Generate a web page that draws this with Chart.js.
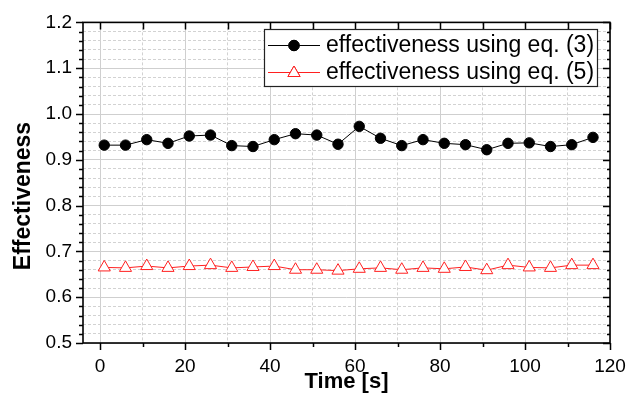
<!DOCTYPE html>
<html>
<head>
<meta charset="utf-8">
<script src="https://cdn.jsdelivr.net/npm/chart.js@4"></script>
<style>
  html, body { margin: 0; padding: 0; background: #fff; }
  #wrap { width: 639px; height: 398px; }
</style>
</head>
<body>
<div id="wrap"><canvas id="c" width="639" height="398"></canvas></div>
<script>
// ---- data ----
const timeS = [1, 6, 11, 16, 21, 26, 31, 36, 41, 46, 51, 56, 61, 66, 71, 76, 81, 86, 91, 96, 101, 106, 111, 116];
const effEq3 = [0.932, 0.932, 0.944, 0.936, 0.952, 0.954, 0.931, 0.929, 0.944, 0.957, 0.954, 0.934,
                0.973, 0.947, 0.931, 0.944, 0.936, 0.933, 0.922, 0.936, 0.937, 0.929, 0.933, 0.949];
const effEq5 = [0.665, 0.664, 0.668, 0.664, 0.668, 0.670, 0.664, 0.666, 0.668, 0.660, 0.660, 0.658,
                0.662, 0.664, 0.660, 0.664, 0.662, 0.666, 0.659, 0.670, 0.665, 0.664, 0.670, 0.670];
const seriesLabels = ['effectiveness using eq. (3)', 'effectiveness using eq. (5)'];
const xTitle = 'Time [s]';
const yTitle = 'Effectiveness';
const xMajorTicks = [0, 20, 40, 60, 80, 100, 120];
const xMinorTicks = [10, 30, 50, 70, 90, 110];
const yMajorTicks = [0.5, 0.6, 0.7, 0.8, 0.9, 1.0, 1.1, 1.2];
const yMinorPerMajor = 4; // minor ticks between majors (0.02 steps)
const xRange = [-4, 120];
const yRange = [0.5, 1.2];

// ---- helpers ----
const xAllTicks = xMajorTicks.concat(xMinorTicks).sort((a, b) => a - b);
const yMinorTicks = [];
for (let i = 0; i < yMajorTicks.length - 1; i++) {
  const a = yMajorTicks[i], b = yMajorTicks[i + 1];
  for (let k = 1; k <= yMinorPerMajor; k++) yMinorTicks.push(+(a + (b - a) * k / (yMinorPerMajor + 1)).toFixed(4));
}
const yAllTicks = yMajorTicks.concat(yMinorTicks).sort((a, b) => a - b);
const isMajorX = v => xMajorTicks.some(t => Math.abs(t - v) < 1e-6);
const isMajorY = v => yMajorTicks.some(t => Math.abs(t - v) < 1e-6);

const FONT = "'Liberation Sans', Arial, Helvetica, sans-serif";
const MAJOR_GRID = '#cfcfcf';
const MINOR_GRID = '#d2d2d2';

const framePlugin = {
  id: 'frame',
  afterDraw(chart) {
    const { ctx, chartArea: a, scales: { x, y } } = chart;
    ctx.save();
    ctx.strokeStyle = '#000';
    ctx.lineWidth = 1.5;
    ctx.beginPath();
    // left / right ticks
    yAllTicks.forEach(v => {
      const py = Math.round(y.getPixelForValue(v)) + 0.5;
      const maj = isMajorY(v);
      const lenOut = maj ? 7 : 4, lenIn = maj ? 7 : 3;
      ctx.moveTo(a.left - lenOut, py); ctx.lineTo(a.left, py);
      ctx.moveTo(a.right, py); ctx.lineTo(a.right - lenIn, py);
    });
    // bottom / top ticks
    xAllTicks.forEach(v => {
      const px = Math.round(x.getPixelForValue(v)) + 0.5;
      const maj = isMajorX(v);
      ctx.moveTo(px, a.bottom); ctx.lineTo(px, a.bottom + (maj ? 7 : 4));
      ctx.moveTo(px, a.top); ctx.lineTo(px, a.top + 7);
    });
    ctx.stroke();
    ctx.lineWidth = 1.6;
    ctx.strokeRect(a.left, a.top, a.right - a.left, a.bottom - a.top);
    ctx.restore();

    // y axis title (sits a little below the plot centre in the reference)
    ctx.save();
    ctx.translate(24, 196);
    ctx.rotate(-Math.PI / 2);
    ctx.fillStyle = '#000';
    ctx.font = 'bold 23px ' + FONT;
    ctx.textAlign = 'center';
    ctx.textBaseline = 'middle';
    ctx.fillText(yTitle, 0, 0);
    ctx.restore();

    // legend box
    const lx = 264, ly = 29, lw = 333, lh = 57;
    ctx.save();
    ctx.fillStyle = '#fff';
    ctx.fillRect(lx, ly, lw, lh);
    ctx.strokeStyle = '#222';
    ctx.lineWidth = 1.2;
    ctx.strokeRect(lx + 0.5, ly + 0.5, lw, lh);
    const rows = [ly + 16, ly + 43];
    chart.data.datasets.forEach((ds, i) => {
      const ry = rows[i];
      ctx.strokeStyle = ds.borderColor;
      ctx.lineWidth = 1;
      ctx.beginPath(); ctx.moveTo(lx + 4, ry + 0.5); ctx.lineTo(lx + 56, ry + 0.5); ctx.stroke();
      Chart.helpers.drawPoint(ctx, {
        pointStyle: ds.pointStyle, radius: ds.pointRadius, borderWidth: ds.pointBorderWidth || 1, rotation: 0
      }, lx + 30, ry + (ds.pointStyle === 'triangle' ? 1 : 0.5));
      ctx.fillStyle = ds.pointBackgroundColor;
      ctx.strokeStyle = ds.pointBorderColor;
      ctx.lineWidth = 1;
      ctx.fill(); ctx.stroke();
      ctx.fillStyle = '#000';
      ctx.font = '23px ' + FONT;
      ctx.textBaseline = 'middle';
      ctx.textAlign = 'left';
      ctx.fillText(ds.label, lx + 62, ry + 1);
    });
    ctx.restore();
  }
};

new Chart(document.getElementById('c'), {
  type: 'line',
  data: {
    datasets: [
      {
        label: seriesLabels[0],
        data: timeS.map((t, i) => ({ x: t, y: effEq3[i] })),
        borderColor: '#000', borderWidth: 1,
        pointStyle: 'circle', pointRadius: 5.2,
        pointBackgroundColor: '#000', pointBorderColor: '#000', pointBorderWidth: 1,
        tension: 0
      },
      {
        label: seriesLabels[1],
        data: timeS.map((t, i) => ({ x: t, y: effEq5[i] })),
        borderColor: '#ff2020', borderWidth: 1,
        pointStyle: 'triangle', pointRadius: 7,
        pointBackgroundColor: '#fff', pointBorderColor: '#ff2020', pointBorderWidth: 1,
        tension: 0
      }
    ]
  },
  options: {
    responsive: false,
    animation: false,
    devicePixelRatio: 1,
    layout: { padding: { left: 0, right: 29, top: 17, bottom: 0 } },
    plugins: { legend: { display: false }, tooltip: { enabled: false } },
    scales: {
      x: {
        type: 'linear',
        min: xRange[0], max: xRange[1],
        afterBuildTicks: s => { s.ticks = xAllTicks.map(v => ({ value: v })); },
        afterFit: s => { s.height = 55; },
        ticks: {
          autoSkip: false, maxRotation: 0, padding: 12, color: '#000',
          font: { family: FONT, size: 19 },
          callback: v => isMajorX(v) ? String(v) : ''
        },
        grid: {
          drawTicks: false,
          color: c => (c.tick && isMajorX(c.tick.value)) ? MAJOR_GRID : MINOR_GRID,
          lineWidth: 1
        },
        border: {
          display: false,
          dash: c => (c.tick && !isMajorX(c.tick.value)) ? [3, 2] : []
        },
        title: {
          display: true, text: xTitle, color: '#000',
          font: { family: FONT, size: 22, weight: 'bold', lineHeight: 1 },
          padding: { top: 0, bottom: 5 }
        }
      },
      y: {
        type: 'linear',
        min: yRange[0], max: yRange[1],
        afterBuildTicks: s => { s.ticks = yAllTicks.map(v => ({ value: v })); },
        afterFit: s => { s.width = 83; },
        ticks: {
          autoSkip: false, padding: 11, color: '#000',
          font: { family: FONT, size: 19 },
          callback: v => isMajorY(v) ? v.toFixed(1) : ''
        },
        grid: {
          drawTicks: false,
          color: c => (c.tick && isMajorY(c.tick.value)) ? MAJOR_GRID : MINOR_GRID,
          lineWidth: 1
        },
        border: {
          display: false,
          dash: c => (c.tick && !isMajorY(c.tick.value)) ? [3, 2] : []
        },
        title: { display: false }
      }
    }
  },
  plugins: [framePlugin]
});
</script>
</body>
</html>
